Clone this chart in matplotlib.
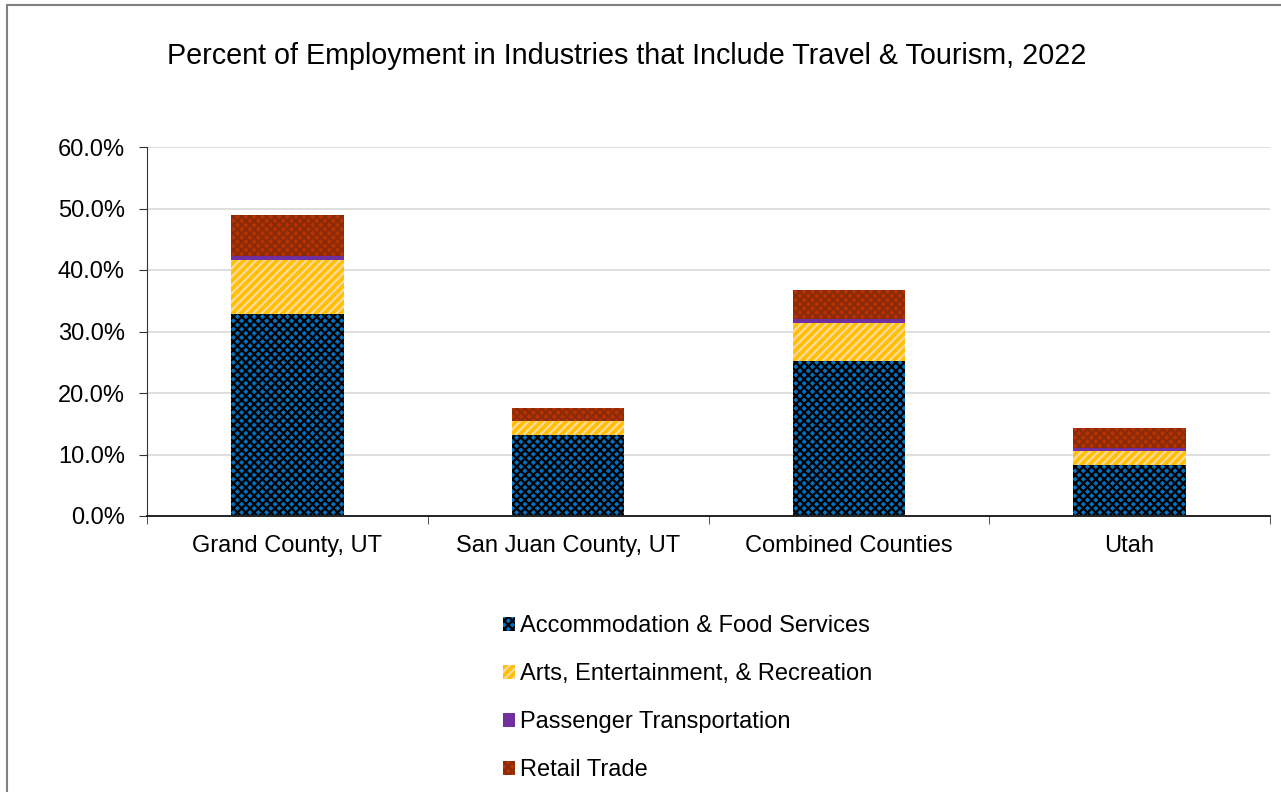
import numpy as np
import matplotlib.pyplot as plt
from matplotlib.patches import Rectangle
from matplotlib.ticker import FuncFormatter

plt.rcParams['font.family'] = ['Liberation Sans', 'DejaVu Sans']
plt.rcParams['hatch.linewidth'] = 1.6

regions = ["Grand County, UT", "San Juan County, UT", "Combined Counties", "Utah"]
accommodation = [32.8, 13.2, 25.2, 8.3]
arts = [8.8, 2.2, 6.2, 2.3]
passenger = [0.7, 0.1, 0.6, 0.4]
retail = [6.6, 2.1, 4.8, 3.3]

series = [
    ("Accommodation & Food Services", accommodation, "#0070C0", "#000000", "xxxx"),
    ("Arts, Entertainment, & Recreation", arts, "#FFC000", "#FFD9A0", "////"),
    ("Passenger Transportation", passenger, "#7030A0", "#7030A0", None),
    ("Retail Trade", retail, "#B83200", "#8A2A08", "xxxx"),
]

fig = plt.figure(figsize=(12.81, 7.92), dpi=100)
ax = fig.add_axes([147 / 1281, 1 - 516 / 792, (1270 - 147) / 1281, (516 - 147) / 792])

x = np.arange(len(regions))
bottom = np.zeros(len(regions))
handles = []
for name, vals, face, hcol, hatch in series:
    vals = np.array(vals)
    b = ax.bar(x, vals, width=0.4, bottom=bottom, color=face, edgecolor=hcol,
               hatch=hatch, linewidth=0, label=name)
    handles.append(b)
    bottom += vals

ax.set_xlim(-0.5, len(regions) - 0.5)
ax.set_ylim(0, 60)
ax.set_yticks(np.arange(0, 61, 10))
ax.yaxis.set_major_formatter(FuncFormatter(lambda v, p: f"{v:.1f}%"))
ax.set_xticks(x)
ax.set_xticklabels(regions)
ax.set_xticks(np.arange(-0.5, len(regions), 1), minor=True)
ax.tick_params(axis='x', which='major', length=0, pad=14, labelsize=17)
ax.tick_params(axis='x', which='minor', length=6, direction='out', color='#333333')
ax.tick_params(axis='y', length=6, direction='out', labelsize=17, pad=10, color='#333333')
ax.grid(axis='y', color='#D9D9D9', linewidth=1.2)
ax.set_axisbelow(True)
for s in ['top', 'right']:
    ax.spines[s].set_visible(False)
ax.spines['left'].set_color('#333333')
ax.spines['bottom'].set_color('#222222')
ax.spines['bottom'].set_linewidth(1.4)

fig.text(627 / 1281, 1 - 56 / 792, "Percent of Employment in Industries that Include Travel & Tourism, 2022",
         ha='center', va='center', fontsize=20.7)

fig.legend(handles=handles, loc='upper left', bbox_to_anchor=(494 / 1281, 1 - 606 / 792),
           frameon=False, fontsize=17, handlelength=0.5, handleheight=0.5,
           handletextpad=0.2, labelspacing=1.1, borderaxespad=0)

fig.patches.append(Rectangle((7 / 1281, -0.1), 1.2, 1 - 5 / 792 + 0.1, transform=fig.transFigure,
                             fill=False, edgecolor='#808080', linewidth=1.5))

fig.savefig("out.png", dpi=100)
